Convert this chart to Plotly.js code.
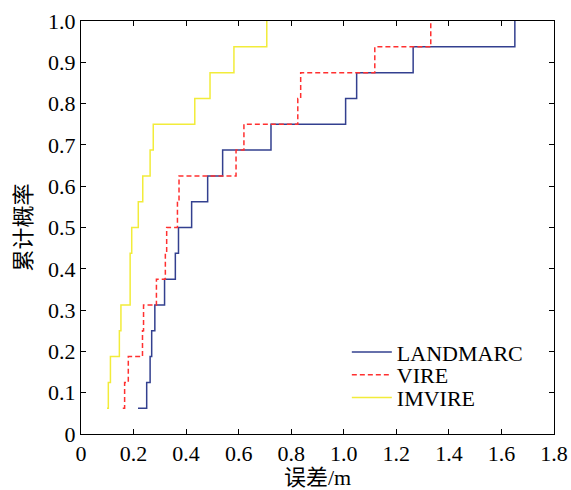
<!DOCTYPE html>
<html>
<head>
<meta charset="utf-8">
<script src="https://cdn.plot.ly/plotly-3.0.1.min.js"></script>
<style>html,body{margin:0;padding:0;background:#fff;}#chart{width:571px;height:490px;}</style>
</head>
<body>
<div id="chart"></div>
<script>
// Sorted positioning errors (m) for each method, 16 samples each
const landmarc = [0.217, 0.250, 0.263, 0.269, 0.281, 0.318, 0.359, 0.371, 0.421, 0.482, 0.539, 0.723, 1.007, 1.049, 1.264, 1.651];
const vire     = [0.159, 0.166, 0.180, 0.234, 0.238, 0.287, 0.321, 0.326, 0.367, 0.373, 0.590, 0.620, 0.825, 0.836, 1.118, 1.331];
const imvire   = [0.099, 0.104, 0.112, 0.146, 0.152, 0.187, 0.187, 0.193, 0.218, 0.235, 0.263, 0.275, 0.433, 0.491, 0.582, 0.707];
const cumProb  = [1,2,3,4,5,6,7,8,9,10,11,12,13,14,15,16].map(k => k / 16);
const seriesNames = ['LANDMARC', 'VIRE', 'IMVIRE'];
const xTickVals = [0, 0.2, 0.4, 0.6, 0.8, 1.0, 1.2, 1.4, 1.6, 1.8];
const xTickText = ['0', '0.2', '0.4', '0.6', '0.8', '1.0', '1.2', '1.4', '1.6', '1.8'];
const yTickVals = [0, 0.1, 0.2, 0.3, 0.4, 0.5, 0.6, 0.7, 0.8, 0.9, 1.0];
const yTickText = ['0', '0.1', '0.2', '0.3', '0.4', '0.5', '0.6', '0.7', '0.8', '0.9', '1.0'];

const FONT = 'Times New Roman, Liberation Serif, serif';
const CJKFONT = 'Times New Roman, Liberation Serif, Noto Sans CJK SC, serif';

const traces = [
  {x: landmarc, y: cumProb, name: seriesNames[0], legend: 'legend', mode: 'lines', line: {shape: 'hv', color: '#33408f', width: 1.5}},
  {x: vire, y: cumProb, name: seriesNames[1], legend: 'legend2', mode: 'lines', line: {shape: 'hv', color: '#ff3030', width: 1.5, dash: '5px,3px'}},
  {x: imvire, y: cumProb, name: seriesNames[2], legend: 'legend3', mode: 'lines', line: {shape: 'hv', color: '#f2ec3a', width: 1.5}}
];

const axisCommon = {
  showgrid: false, zeroline: false, showline: true, linecolor: '#000', linewidth: 1,
  mirror: 'ticks', ticks: 'inside', ticklen: 5, tickcolor: '#000', tickwidth: 1,
  tickfont: {family: FONT, size: 22, color: '#000'}
};

function legendAt(yPaper) {
  return {x: 0.562, y: yPaper, xanchor: 'left', yanchor: 'middle', bgcolor: 'rgba(0,0,0,0)',
          itemwidth: 40, font: {family: FONT, size: 22, color: '#000'}};
}

const layout = {
  width: 571, height: 490,
  margin: {l: 81, r: 17, t: 21, b: 56},
  paper_bgcolor: '#fff', plot_bgcolor: '#fff',
  font: {family: FONT, color: '#000'},
  showlegend: true,
  legend: legendAt(0.198),
  legend2: legendAt(0.143),
  legend3: legendAt(0.088),
  xaxis: Object.assign({}, axisCommon, {range: [0, 1.8], tickvals: xTickVals, ticktext: xTickText,
    title: {text: '误差/m', font: {family: CJKFONT, size: 22, color: '#000'}, standoff: 4}}),
  yaxis: Object.assign({}, axisCommon, {range: [0, 1.0], tickvals: yTickVals, ticktext: yTickText,
    title: {text: '累计概率', font: {family: CJKFONT, size: 22, color: '#000'}, standoff: 10}})
};

Plotly.newPlot('chart', traces, layout, {displayModeBar: false, staticPlot: true});
</script>
</body>
</html>
